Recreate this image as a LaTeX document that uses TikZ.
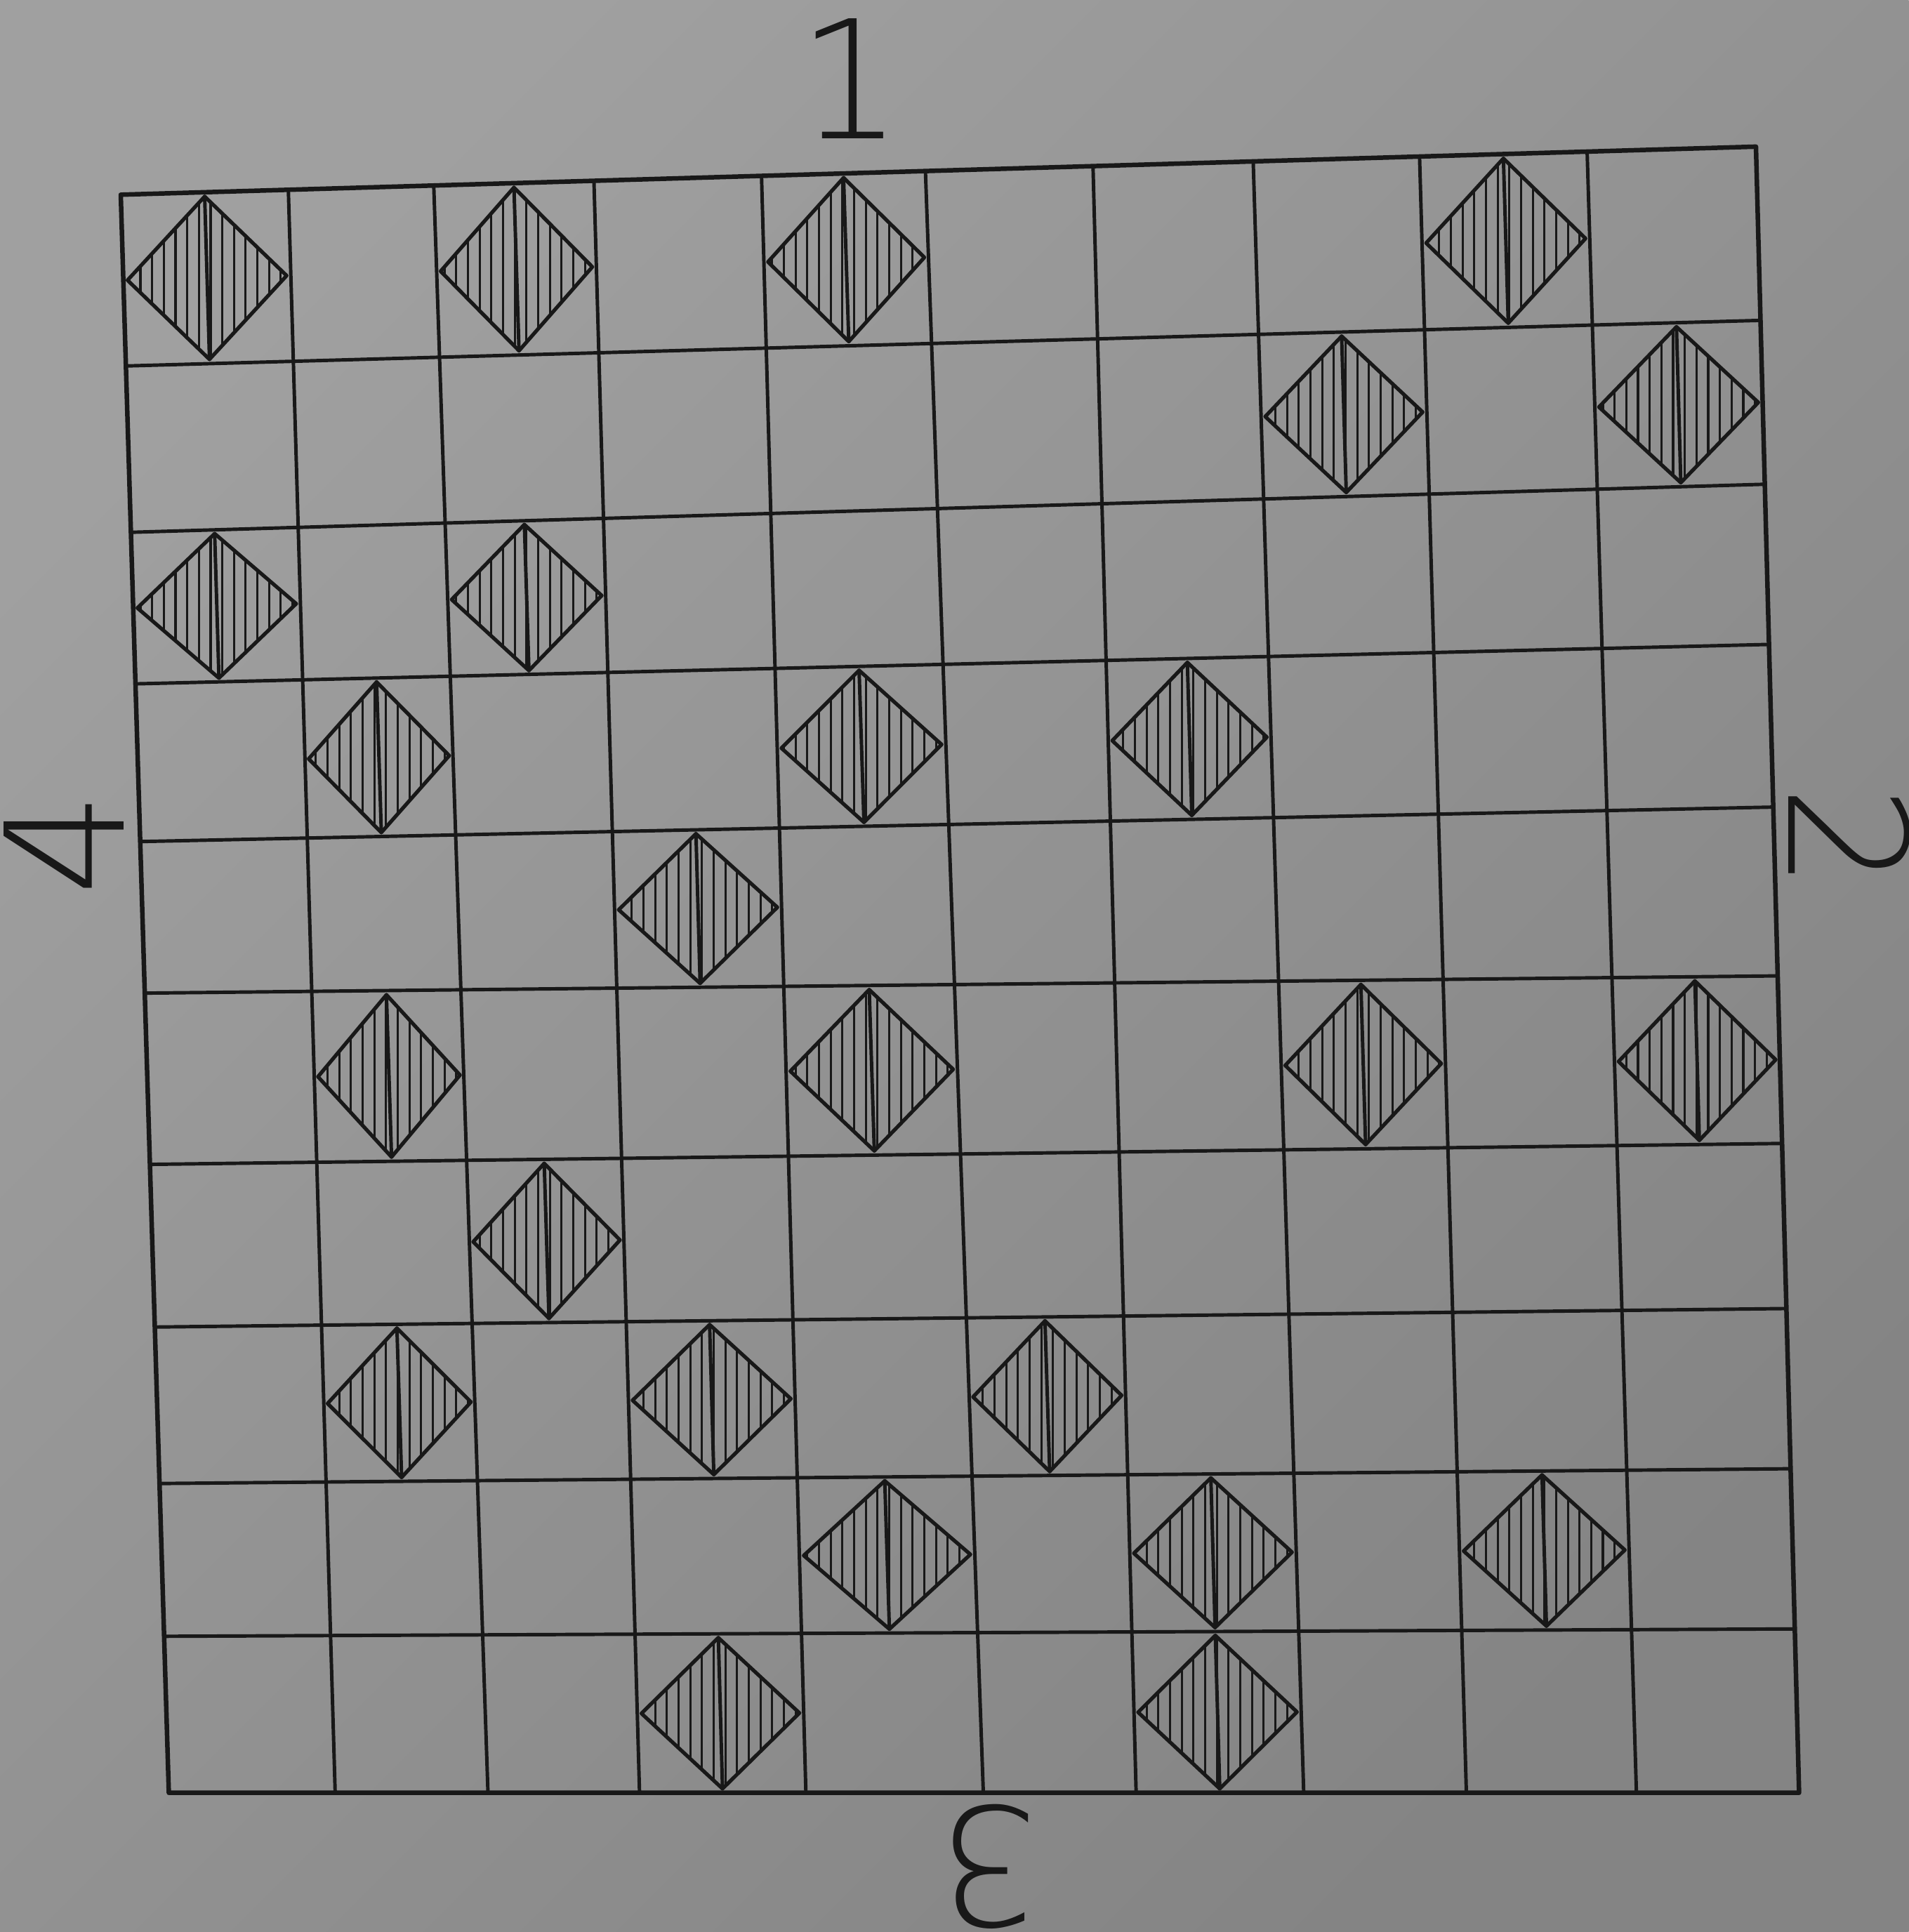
\documentclass[tikz,border=0pt]{standalone}
\usepackage{fontspec}
\newfontfamily\handfont{DejaVu Sans ExtraLight}
\usetikzlibrary{calc,patterns.meta}

\definecolor{paper}{RGB}{160,160,160}
\definecolor{paperdark}{RGB}{132,132,132}
\definecolor{pencil}{RGB}{24,24,24}

\tikzset{
  outerline/.style={pencil,line width=1.05pt,line cap=round,line join=round},
  innerline/.style={pencil,line width=0.8pt,line cap=round},
  diamondedge/.style={pencil,line width=0.85pt,line join=round},
  hatching/.style={pattern={Lines[angle=90,distance=2.7pt,line width=0.5pt]},pattern color=pencil},
  sidelabel/.style={text=pencil,font=\handfont\fontsize{38}{38}\selectfont,inner sep=0pt},
}

\begin{document}
\begin{tikzpicture}[x=0.01cm,y=-0.01cm]
  % paper
  \shade[top color=paper,bottom color=paperdark,shading angle=45] (0,0) rectangle (1549,1568);
  \useasboundingbox (0,0) rectangle (1549,1568);

  % vertical grid lines: x on top edge / x on bottom edge
  \foreach \i/\xt/\xb in {0/98/137,1/234/272,2/352/396,3/482/519,4/618/654,5/751/798,
                          6/887/922,7/1017/1058,8/1152/1190,9/1288/1328,10/1425/1460} {
    \coordinate (v\i t) at (\xt,{158-(\xt-98)/1327*39});
    \coordinate (v\i b) at (\xb,1455);
  }
  % horizontal grid lines: y on left edge / y on right edge
  \foreach \j/\yl/\yr in {0/158/119,1/297/260,2/432/393,3/555/523,4/683/655,5/806/792,
                          6/945/928,7/1077/1062,8/1204/1192,9/1328/1322,10/1455/1455} {
    \coordinate (h\j l) at ({98+(\yl-158)/1297*39},\yl);
    \coordinate (h\j r) at ({1425+(\yr-119)/1336*35},\yr);
  }

  \foreach \i in {1,...,9} {
    \draw[innerline] (v\i t) -- (v\i b);
    \draw[innerline] (h\i l) -- (h\i r);
  }
  \draw[outerline] (v0t) -- (v10t) -- (v10b) -- (v0b) -- cycle;

  % hatched diamonds: row/column
  \foreach \row/\col in {1/1,1/3,1/5,1/9,2/8,2/10,3/1,3/3,4/2,4/5,4/7,5/4,6/2,6/5,6/8,6/10,
                         7/3,8/2,8/4,8/6,9/5,9/7,9/9,10/4,10/7} {
    \pgfmathtruncatemacro{\rowprev}{\row-1}
    \pgfmathtruncatemacro{\colprev}{\col-1}
    \coordinate (nw) at (intersection of v\colprev t--v\colprev b and h\rowprev l--h\rowprev r);
    \coordinate (ne) at (intersection of v\col t--v\col b and h\rowprev l--h\rowprev r);
    \coordinate (sw) at (intersection of v\colprev t--v\colprev b and h\row l--h\row r);
    \coordinate (se) at (intersection of v\col t--v\col b and h\row l--h\row r);
    \coordinate (mid) at ($(nw)!0.5!(se)$);
    \coordinate (dn) at ($(mid)!0.95!($(nw)!0.5!(ne)$)$);
    \coordinate (de) at ($(mid)!0.95!($(ne)!0.5!(se)$)$);
    \coordinate (ds) at ($(mid)!0.95!($(sw)!0.5!(se)$)$);
    \coordinate (dw) at ($(mid)!0.95!($(nw)!0.5!(sw)$)$);
    \fill[hatching] (dn) -- (de) -- (ds) -- (dw) -- cycle;
    \draw[diamondedge] (dn) -- (de) -- (ds) -- (dw) -- cycle;
    \draw[innerline] (dn) -- (ds);
  }

  % side numbers
  \node[sidelabel] (side1) at (690,64) {1};
  \node[sidelabel,rotate=-90] (side2) at (1501,680) {2};
  \node[sidelabel,rotate=180] (side3) at (802,1515) {3};
  \node[sidelabel,rotate=90] (side4) at (52,685) {4};
\end{tikzpicture}
\end{document}
